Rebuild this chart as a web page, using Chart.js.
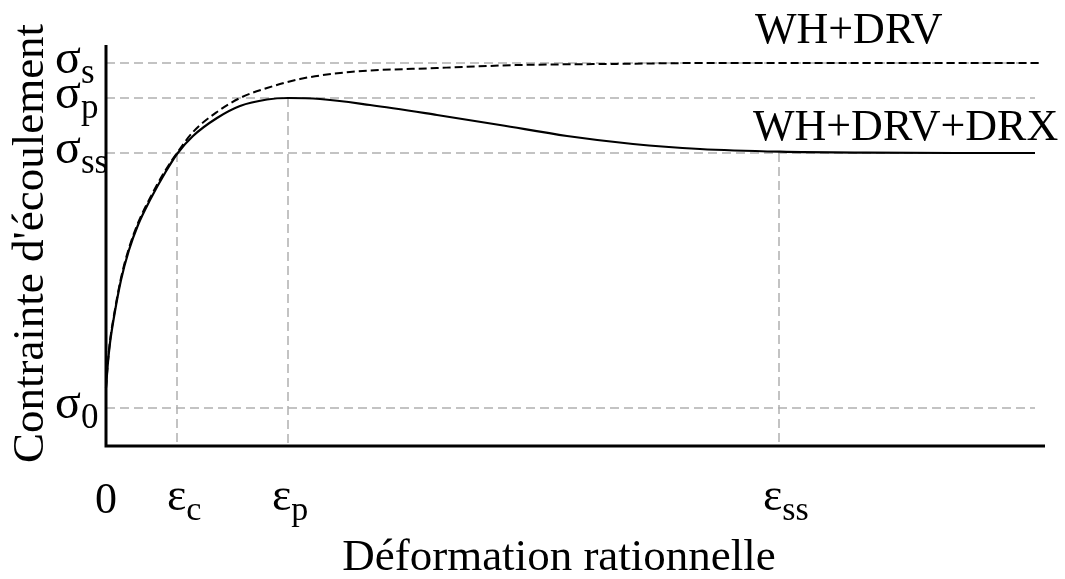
<!DOCTYPE html>
<html>
<head>
  <title>Courbe contrainte - déformation</title>
  <script src="https://cdn.jsdelivr.net/npm/chart.js"></script>
  <style>
    body { margin: 0; background: #fff; }
    #wrap { width: 1065px; height: 579px; }
  </style>
</head>
<body>
  <div id="wrap"><canvas id="flowChart" width="1065" height="579"></canvas></div>

  <script>
    // strain in arbitrary units (0 .. 939), stress in arbitrary units (0 .. 401)
    const xMax = 939;
    const yMax = 401;

    // characteristic stresses and strains
    const sigmaLevels = [383, 348, 293, 38];       // s, p, ss, 0
    const sigmaSubs = ['s', 'p', 'ss', '0'];
    const epsLevels = [71, 182, 673];              // c, p, ss
    const epsSubs = ['c', 'p', 'ss'];
    const epsTops = [293, 348, 293];

    // WH+DRV+DRX (solid)
    const drxX = [0, 2, 4, 8, 15, 23, 32, 44, 59, 71, 87, 111, 134, 161, 182, 214, 264, 331, 394, 461, 527, 594, 674, 760, 850, 929];
    const drxY = [58, 84, 103, 129, 166, 196, 221, 246, 273, 292, 310, 328, 340, 346.5, 348, 347, 341, 331, 321, 310, 302, 297, 294.3, 293.3, 293, 293];

    // WH+DRV (dashed)
    const drvX = [0, 2, 4, 8, 15, 23, 32, 44, 59, 71, 87, 111, 134, 161, 194, 244, 331, 414, 500, 600, 750, 936];
    const drvY = [58, 85, 105, 131, 168, 198, 223, 248, 275, 293, 314, 334, 348, 358, 367, 374, 378, 381, 382, 383, 383, 383];

    const refEnd = 929;
    const serif = '"Liberation Serif", "DejaVu Serif", serif';
    const grey = '#b0b0b0';

    function pts(xs, ys) {
      return xs.map((x, i) => ({ x: x, y: ys[i] }));
    }

    const datasets = [
      {
        data: pts(drxX, drxY),
        borderColor: '#000',
        borderWidth: 2.2,
        pointRadius: 0,
        cubicInterpolationMode: 'monotone',
        clip: false
      },
      {
        data: pts(drvX, drvY),
        borderColor: '#000',
        borderWidth: 2,
        borderDash: [8, 4],
        pointRadius: 0,
        cubicInterpolationMode: 'monotone',
        clip: false
      }
    ];

    sigmaLevels.forEach((s, i) => {
      datasets.push({
        data: [{ x: 0, y: s }, { x: i === 0 ? 936 : refEnd, y: s }],
        borderColor: grey,
        borderWidth: 1.5,
        borderDash: [9, 5],
        pointRadius: 0,
        clip: false
      });
    });

    epsLevels.forEach((e, i) => {
      datasets.push({
        data: [{ x: e, y: epsTops[i] }, { x: e, y: 0 }],
        borderColor: grey,
        borderWidth: 1.5,
        borderDash: [9, 5],
        pointRadius: 0,
        clip: false
      });
    });

    function withSub(ctx, main, sub, x, y, size, subSize, drop) {
      ctx.font = size + 'px ' + serif;
      ctx.fillText(main, x, y);
      const w = ctx.measureText(main).width;
      ctx.font = subSize + 'px ' + serif;
      ctx.fillText(sub, x + w, y + drop);
    }

    const labelsPlugin = {
      id: 'labels',
      afterDatasetsDraw(chart) {
        const ctx = chart.ctx;
        const xs = chart.scales.x;
        const ys = chart.scales.y;
        const x0 = xs.getPixelForValue(0);
        const y0 = ys.getPixelForValue(0);

        ctx.save();
        // axes
        ctx.strokeStyle = '#000';
        ctx.lineWidth = 3;
        ctx.setLineDash([]);
        ctx.beginPath();
        ctx.moveTo(x0, ys.getPixelForValue(yMax));
        ctx.lineTo(x0, y0);
        ctx.lineTo(xs.getPixelForValue(xMax), y0);
        ctx.stroke();

        ctx.fillStyle = '#000';
        ctx.textAlign = 'left';
        ctx.textBaseline = 'alphabetic';

        // stress labels
        sigmaLevels.forEach((s, i) => {
          const py = ys.getPixelForValue(s);
          withSub(ctx, 'σ', sigmaSubs[i], 55, py + 10, 48, 35, 10);
        });

        // strain labels
        ctx.font = '44px ' + serif;
        ctx.textAlign = 'center';
        ctx.fillText('0', x0, 513);
        ctx.textAlign = 'left';
        epsLevels.forEach((e, i) => {
          const px = xs.getPixelForValue(e);
          withSub(ctx, 'ε', epsSubs[i], px - (i === 0 ? 10 : 16), 510, 46, 34, 10);
        });

        // curve names
        ctx.font = '44px ' + serif;
        ctx.fillText('WH+DRV', 755, 43);
        ctx.fillText('WH+DRV+DRX', 753, 140);

        // axis titles
        ctx.font = '45px ' + serif;
        ctx.textAlign = 'center';
        ctx.fillText('Déformation rationnelle', 559, 570);
        ctx.translate(43, ys.getPixelForValue(yMax / 2) - 2);
        ctx.rotate(-Math.PI / 2);
        ctx.fillText("Contrainte d'écoulement", 0, 0);
        ctx.restore();
      }
    };

    new Chart(document.getElementById('flowChart'), {
      type: 'line',
      data: { datasets: datasets },
      options: {
        responsive: false,
        animation: false,
        layout: { padding: { left: 106, right: 20, top: 45, bottom: 133 } },
        plugins: { legend: { display: false }, tooltip: { enabled: false } },
        scales: {
          x: { type: 'linear', min: 0, max: xMax, display: false },
          y: { type: 'linear', min: 0, max: yMax, display: false }
        }
      },
      plugins: [labelsPlugin]
    });
  </script>
</body>
</html>
